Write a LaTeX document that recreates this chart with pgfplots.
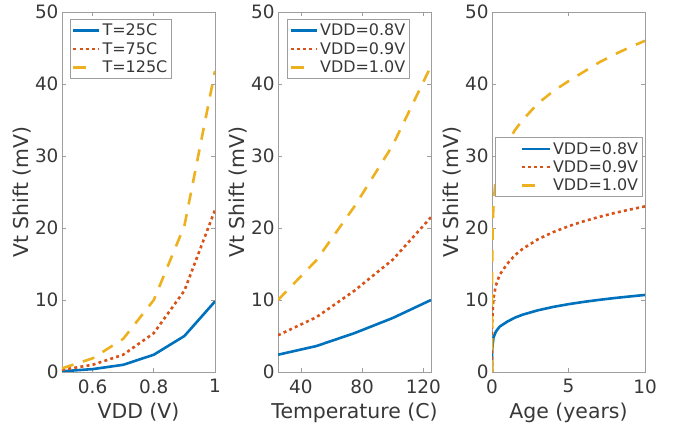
\documentclass[border=0pt]{standalone}
\usepackage{fontspec}
\setmainfont{DejaVu Sans}
\usepackage{pgfplots}
\pgfplotsset{compat=1.18}
\definecolor{mblue}{rgb}{0,0.447,0.741}
\definecolor{morange}{rgb}{0.85,0.325,0.098}
\definecolor{myellow}{rgb}{0.929,0.694,0.125}
\definecolor{txt}{rgb}{0.22,0.22,0.22}
\definecolor{axc}{rgb}{0.62,0.62,0.62}
\pgfplotsset{
  myax/.style={
    scale only axis, width=153bp, height=360bp,
    anchor=south west,
    ymin=0, ymax=50, ytick={0,10,...,50},
    axis line style={axc, line width=0.9bp},
    tick style={axc, line width=0.9bp},
    tick align=inside, tick pos=both,
    major tick length=4bp,
    /pgf/number format/assume math mode=true,
    ticklabel style={font=\fontsize{18.5}{21}\selectfont, text=txt},
    xticklabel style={yshift=-4bp},
    label style={font=\fontsize{20.5}{23}\selectfont, text=txt},
    xlabel style={yshift=-3bp},
    ylabel style={yshift=-3bp},
    ylabel={Vt Shift (mV)},
    legend style={font=\fontsize{16}{18}\selectfont, text=txt, draw=axc, line width=0.8bp, inner xsep=2bp, inner ysep=2.5bp, row sep=1bp, cells={anchor=west}},
    legend cell align=left,
    legend image code/.code={\draw[#1] (0bp,0bp) -- (26bp,0bp);},
    every axis plot/.append style={line width=2.6bp},
    clip=true,
  },
  s1/.style={mblue, solid},
  s2/.style={morange, dash pattern=on 3bp off 3.2bp},
  s3/.style={myellow, dash pattern=on 12bp off 10bp},
  s3leg/.style={legend image post style={dash pattern=on 13bp off 30bp}},
}
\begin{document}
\begin{tikzpicture}
\useasboundingbox (0,0) rectangle (678bp,426bp);
% Panel 1
\begin{axis}[myax, at={(62bp,54bp)}, xmin=0.5, xmax=1, xtick={0.6,0.8,1},
  xlabel={VDD (V)},
  legend style={at={(0.05,0.98)}, anchor=north west}]
\addplot[s1] coordinates {(0.5,0.1) (0.6,0.4) (0.7,1.0) (0.8,2.4) (0.9,5.0) (1.0,9.8)};
\addplot[s2] coordinates {(0.5,0.3) (0.6,1.0) (0.7,2.4) (0.8,5.4) (0.9,11.3) (1.0,22.5)};
\addplot[s3, s3leg] coordinates {(0.5,0.5) (0.6,1.9) (0.7,4.6) (0.8,10.0) (0.9,20.3) (1.0,41.8)};
\legend{T=25C,T=75C,T=125C}
\end{axis}
% Panel 2
\begin{axis}[myax, at={(278bp,54bp)}, xmin=25, xmax=125, xtick={40,80,120},
  xlabel={Temperature (C)},
  legend style={at={(0.06,0.98)}, anchor=north west}]
\addplot[s1] coordinates {(25,2.4) (50,3.6) (75,5.4) (100,7.5) (125,10.0)};
\addplot[s2] coordinates {(25,5.1) (50,7.6) (75,11.3) (100,15.6) (125,21.5)};
\addplot[s3, s3leg] coordinates {(25,10.0) (50,15.5) (75,23.0) (100,31.5) (125,42.5)};
\legend{VDD=0.8V,VDD=0.9V,VDD=1.0V}
\end{axis}
% Panel 3
\begin{axis}[myax, at={(492bp,54bp)}, xmin=0, xmax=10, xtick={0,5,10},
  xlabel={Age (years)},
  legend image code/.code={\path (0bp,0bp); \draw[#1] (23bp,0bp) -- (51bp,0bp);},
  legend style={at={(0.02,0.652)}, anchor=north west}]
\addplot[s1] coordinates {(0,0) (0.01,3.0) (0.05,4.0) (0.1,4.8) (0.25,5.6) (0.5,6.3) (1,7.0) (1.5,7.55) (2,7.96) (3,8.57) (4,9.04) (5,9.42) (6,9.74) (7,10.02) (8,10.27) (9,10.49) (10,10.7)};
\addplot[s2] coordinates {(0,0) (0.01,6.5) (0.05,8.9) (0.1,10.3) (0.25,12.0) (0.5,13.5) (1,15.04) (1.5,16.23) (2,17.1) (3,18.43) (4,19.43) (5,20.25) (6,20.94) (7,21.54) (8,22.08) (9,22.56) (10,23.0)};
\addplot[s3, s3leg] coordinates {(0,0) (0.01,15.0) (0.05,20.5) (0.1,23.5) (0.25,27.0) (0.5,29.5) (1,31.8) (1.5,33.6) (2,35.0) (3,37.3) (4,39.0) (5,40.4) (6,41.7) (7,43.0) (8,44.1) (9,45.1) (10,46.0)};
\legend{VDD=0.8V,VDD=0.9V,VDD=1.0V}
\end{axis}
\end{tikzpicture}
\end{document}
